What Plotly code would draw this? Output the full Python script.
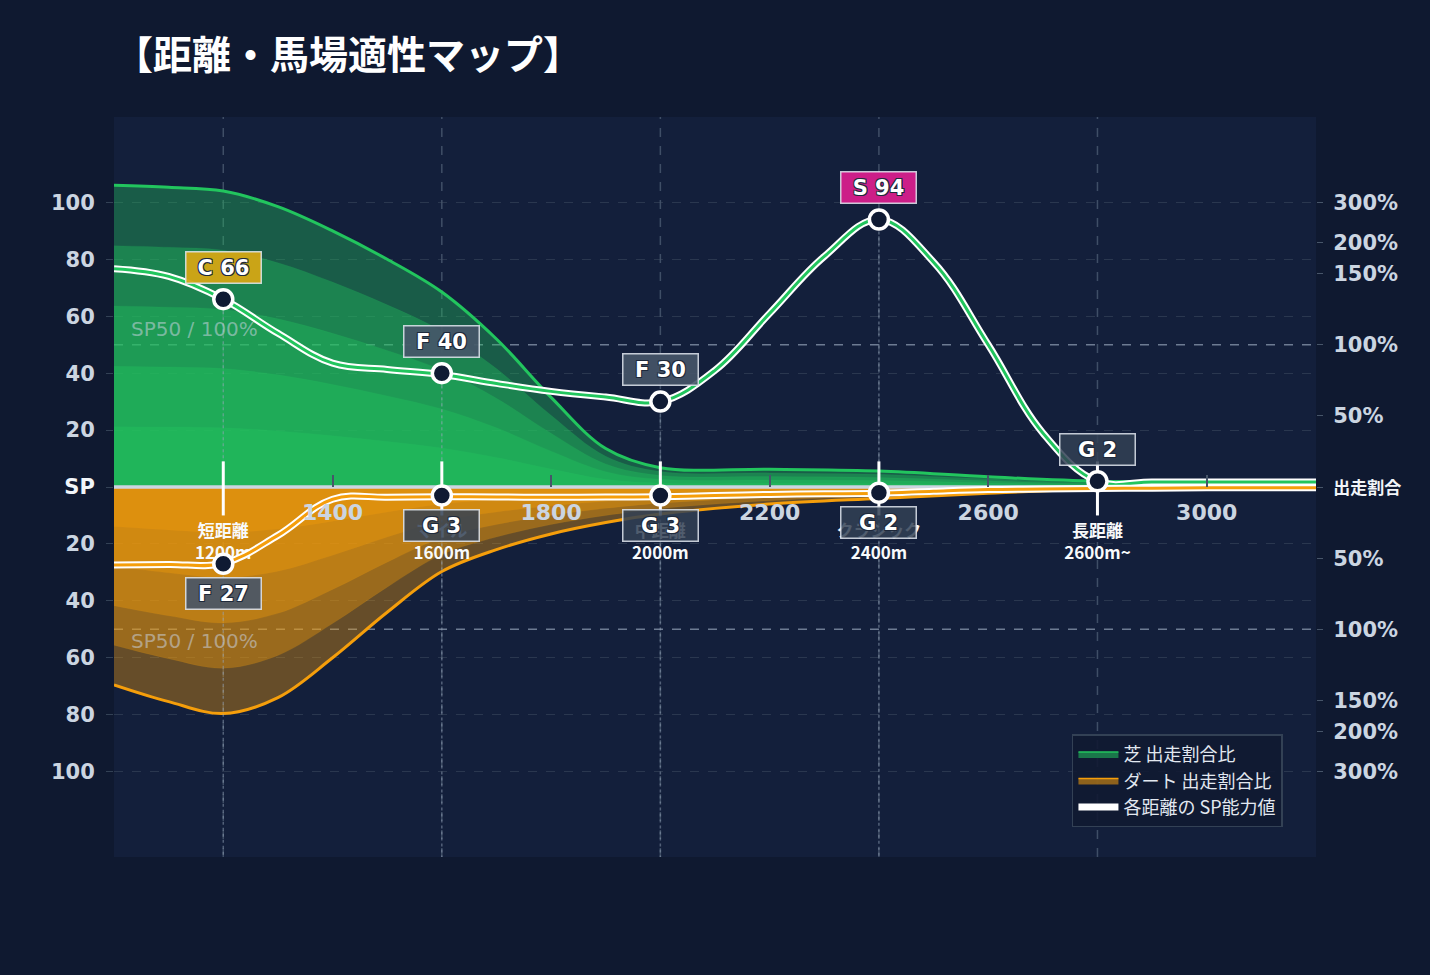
"""距離・馬場適性マップ — turf share above the SP line, dirt share mirrored below."""

import plotly.graph_objects as go

# ---------------------------------------------------------------------------
# Data
# ---------------------------------------------------------------------------
# Run-share envelopes (出走割合), sampled along the distance axis.
SHARE_DIST = [1000, 1100, 1200, 1300, 1400, 1500, 1600, 1700, 1800, 1900,
              2000, 2200, 2400, 2600, 2800, 3000, 3200]
TURF_SHARE = [106, 105.3, 104, 98.5, 90, 80, 68.5, 52, 31.5, 13.5,
              6.8, 6.2, 5.6, 3.6, 2.0, 2.0, 2.0]
DIRT_SHARE = [69.5, 75.4, 79.6, 74, 60, 44, 29.7, 22, 16.5, 12.5,
              9.5, 6.0, 4.0, 2.2, 0.8, 0.6, 0.6]

# SP curves between the category points.
SP_DIST = [1000, 1100, 1200, 1300, 1400, 1500, 1600, 1700, 1800, 1900, 2000, 2100,
           2200, 2300, 2400, 2500, 2600, 2700, 2800, 2900, 3000, 3100, 3200]
TURF_SP_LINE = [76.7, 74, 66, 54, 43.5, 41.3, 39.5, 36.4, 33.6, 31.6, 30, 41,
                61, 81, 94, 79, 50, 19, 2, 1.8, 1.8, 1.8, 1.8]
DIRT_SP_LINE = [27.4, 27.2, 26.8, 17, 4.3, 3.6, 3.4, 3.5, 3.6, 3.5, 3.4, 3.0,
                2.6, 2.4, 2.2, 1.5, 0.9, 0.7, 0.5, 0.4, 0.3, 0.3, 0.3]

# Distance categories and their grades.
CATEGORIES = ["短距離", "マイル", "中距離", "クラシック", "長距離"]
CATEGORY_DIST = [1200, 1600, 2000, 2400, 2800]
CATEGORY_RANGE = ["1200m", "1600m", "2000m", "2400m", "2600m~"]
TURF_RANK = ["C", "F", "F", "S", "G"]
TURF_SP = [66, 40, 30, 94, 2]
DIRT_RANK = ["F", "G", "G", "G"]
DIRT_SP = [27, 3, 3, 2]

# Axis ticks.
X_TICKS = [1400, 1800, 2200, 2600, 3000]
LEFT_TICK_VALS = [100, 80, 60, 40, 20, 0, -20, -40, -60, -80, -100]
LEFT_TICK_TEXT = ["100", "80", "60", "40", "20", "SP", "20", "40", "60", "80", "100"]
RATIO_TICK_VALS = [100, 86, 75, 50, 25, 0, -25, -50, -75, -86, -100]
RATIO_TICK_TEXT = ["300%", "200%", "150%", "100%", "50%", "出走割合",
                   "50%", "100%", "150%", "200%", "300%"]
SP50 = 50

# ---------------------------------------------------------------------------
# Style
# ---------------------------------------------------------------------------
PAPER_BG = "#0f1930"
PLOT_BG = "#131f3b"
TURF = "#22c55e"
DIRT = "#f59e0b"
TICK_COLOR = "#cbd5e1"
FONT = "DejaVu Sans, Noto Sans CJK JP, sans-serif"
CJK = "Noto Sans CJK JP, DejaVu Sans, sans-serif"
RANK_BG = {
    "S": "rgba(214,31,140,0.95)",
    "A": "rgba(220,38,38,0.9)",
    "B": "rgba(234,88,12,0.9)",
    "C": "rgba(212,165,20,0.95)",
    "F": "rgba(71,85,105,0.9)",
    "G": "rgba(51,65,85,0.85)",
}
LAYERS = [0.2, 0.4, 0.6, 0.8]  # inner gradient layers, the full envelope goes last
OUTLINE = ("1px 1px 0 #1e293b, -1px -1px 0 #1e293b, "
           "1px -1px 0 #1e293b, -1px 1px 0 #1e293b")

fig = go.Figure()


def add_share(values, sign, rgba, color, name):
    for frac in LAYERS:
        fig.add_trace(go.Scatter(
            x=SHARE_DIST, y=[sign * v * frac for v in values],
            mode="lines", line=dict(width=0.6, color=rgba.format(0.15), shape="spline"),
            fill="tozeroy", fillcolor=rgba.format(0.37),
            showlegend=False, hoverinfo="skip",
        ))
    fig.add_trace(go.Scatter(
        x=SHARE_DIST, y=[sign * v for v in values],
        mode="lines", line=dict(width=3, color=color, shape="spline"),
        fill="tozeroy", fillcolor=rgba.format(0.37),
        showlegend=False, hoverinfo="skip",
    ))
    # legend swatch only
    fig.add_trace(go.Scatter(
        x=[None], y=[None], mode="lines", fill="toself",
        fillcolor=rgba.format(0.55), line=dict(color=color, width=1.5), name=name,
    ))


add_share(TURF_SHARE, 1, "rgba(34,197,94,{})", TURF, "芝 出走割合比")
add_share(DIRT_SHARE, -1, "rgba(245,158,11,{})", DIRT, "ダート 出走割合比")

# centre line
fig.add_trace(go.Scatter(
    x=[SHARE_DIST[0], SHARE_DIST[-1]], y=[0, 0], mode="lines",
    line=dict(color="#cbd5e1", width=3.5), showlegend=False, hoverinfo="skip",
))

# dotted drop lines from the grade points
drop_x, drop_y = [], []
for d, v in zip(CATEGORY_DIST, TURF_SP):
    drop_x += [d, d, None]
    drop_y += [v, 0, None]
for d, v in zip(CATEGORY_DIST, DIRT_SP):
    drop_x += [d, d, None]
    drop_y += [-v, -130, None]
fig.add_trace(go.Scatter(
    x=drop_x, y=drop_y, mode="lines",
    line=dict(color="rgba(148,163,184,0.5)", width=1.5, dash="dot"),
    showlegend=False, hoverinfo="skip",
))

# category captions under the axis
fig.add_trace(go.Scatter(
    x=CATEGORY_DIST, y=[-20] * len(CATEGORY_DIST), mode="text",
    text=[f"{c}<br>{r}" for c, r in zip(CATEGORIES, CATEGORY_RANGE)],
    textfont=dict(family=CJK, size=17, color="#f8fafc", weight="bold"),
    showlegend=False, hoverinfo="skip",
))

# white category ticks across the centre line
tick_x, tick_y = [], []
for d in CATEGORY_DIST:
    tick_x += [d, d, None]
    tick_y += [9, -10, None]
fig.add_trace(go.Scatter(
    x=tick_x, y=tick_y, mode="lines", line=dict(color="white", width=3),
    showlegend=False, hoverinfo="skip",
))

# SP curves: white casing + coloured core
sp_shape = dict(shape="spline", smoothing=1.1)
fig.add_trace(go.Scatter(
    x=SP_DIST, y=TURF_SP_LINE, mode="lines",
    line=dict(color="white", width=7, **sp_shape),
    name="各距離の SP能力値", hoverinfo="skip",
))
fig.add_trace(go.Scatter(
    x=SP_DIST, y=TURF_SP_LINE, mode="lines",
    line=dict(color=TURF, width=3, **sp_shape), showlegend=False, hoverinfo="skip",
))
fig.add_trace(go.Scatter(
    x=SP_DIST, y=[-v for v in DIRT_SP_LINE], mode="lines",
    line=dict(color="white", width=7, **sp_shape), showlegend=False, hoverinfo="skip",
))
fig.add_trace(go.Scatter(
    x=SP_DIST, y=[-v for v in DIRT_SP_LINE], mode="lines",
    line=dict(color=DIRT, width=3, **sp_shape), showlegend=False, hoverinfo="skip",
))

# grade markers
marker = dict(size=19, color="#0f1a33", line=dict(color="white", width=3.5))
fig.add_trace(go.Scatter(
    x=CATEGORY_DIST[:len(DIRT_SP)], y=[-v for v in DIRT_SP], mode="markers",
    marker=marker, showlegend=False,
))
fig.add_trace(go.Scatter(
    x=CATEGORY_DIST, y=TURF_SP, mode="markers", marker=marker, showlegend=False,
))

# invisible trace so the right-hand ratio axis gets drawn
fig.add_trace(go.Scatter(
    x=[SHARE_DIST[0]], y=[0], yaxis="y2", mode="markers",
    marker=dict(opacity=0), showlegend=False, hoverinfo="skip",
))

# grade badges
badge_font = dict(family=FONT, size=21, color="white", weight="bold", shadow=OUTLINE)
for d, rank, sp in zip(CATEGORY_DIST, TURF_RANK, TURF_SP):
    fig.add_annotation(
        x=d, y=sp, yshift=32, text=f"{rank} {sp}", showarrow=False, font=badge_font,
        bgcolor=RANK_BG[rank], bordercolor="rgba(226,232,240,0.85)", borderwidth=1.5,
        width=72, height=28,
    )
for d, rank, sp in zip(CATEGORY_DIST, DIRT_RANK, DIRT_SP):
    fig.add_annotation(
        x=d, y=-sp, yshift=-30, text=f"{rank} {sp}", showarrow=False, font=badge_font,
        bgcolor=RANK_BG[rank], bordercolor="rgba(226,232,240,0.85)", borderwidth=1.5,
        width=72, height=28,
    )

# SP50 reference lines
for sign in (1, -1):
    fig.add_shape(
        type="line", xref="paper", x0=0, x1=1, y0=sign * SP50, y1=sign * SP50,
        line=dict(color="rgba(148,163,184,0.7)", width=1.5, dash="dash"), layer="below",
    )
    fig.add_annotation(
        x=SHARE_DIST[0], xshift=15, y=sign * SP50, yshift=2,
        xanchor="left", yanchor="bottom" if sign > 0 else "top",
        text="SP50 / 100%", showarrow=False,
        font=dict(family=FONT, size=20, color="rgba(203,213,225,0.55)"),
    )

# category grid lines
for d in CATEGORY_DIST:
    fig.add_shape(
        type="line", yref="paper", y0=0, y1=1, x0=d, x1=d,
        line=dict(color="rgba(100,116,139,0.55)", width=1.5, dash="dash"), layer="below",
    )

fig.update_layout(
    width=1430, height=975,
    margin=dict(l=114, r=114, t=117, b=118),
    paper_bgcolor=PAPER_BG, plot_bgcolor=PLOT_BG,
    font=dict(family=FONT, color=TICK_COLOR),
    title=dict(
        text="【距離・馬場適性マップ】", x=0, xref="paper", xanchor="left",
        y=1 - 55 / 975, yref="container", yanchor="middle",
        font=dict(family=CJK, size=39, color="white", weight="bold"),
    ),
    xaxis=dict(
        range=[SHARE_DIST[0], SHARE_DIST[-1]], tickvals=X_TICKS,
        anchor="free", position=0.5, showgrid=False, zeroline=False, showline=False,
        ticks="inside", ticklen=12, tickwidth=2, tickcolor="#475569",
        tickfont=dict(size=22, color=TICK_COLOR, weight="bold"),
        ticklabelstandoff=10,
    ),
    yaxis=dict(
        range=[-130, 130], tickvals=LEFT_TICK_VALS,
        ticktext=[f"<span style='color:#f1f5f9'>{t}</span>" if t == "SP" else t
                  for t in LEFT_TICK_TEXT],
        showgrid=True, gridcolor="rgba(71,85,105,0.45)", griddash="dash", gridwidth=1,
        zeroline=False, showline=False,
        ticks="outside", ticklen=7, tickcolor="#334155",
        tickfont=dict(size=21, color=TICK_COLOR, weight="bold"),
        ticklabelstandoff=7,
    ),
    yaxis2=dict(
        range=[-130, 130], overlaying="y", side="right", tickvals=RATIO_TICK_VALS,
        ticktext=[f"<span style='font-size:17px;color:#f1f5f9'>{t}</span>" if t == "出走割合" else t
                  for t in RATIO_TICK_TEXT],
        showgrid=False, zeroline=False, showline=False,
        ticks="outside", ticklen=6, tickcolor="#475569",
        tickfont=dict(size=21, color=TICK_COLOR, weight="bold"),
        ticklabelstandoff=6,
    ),
    legend=dict(
        x=0.9725, y=0.04, xanchor="right", yanchor="bottom",
        bgcolor="rgba(17,26,50,0.9)", bordercolor="#334155", borderwidth=1.5,
        font=dict(family=CJK, size=18, color="#e2e8f0"), traceorder="normal",
        itemwidth=40, tracegroupgap=0,
    ),
    showlegend=True,
)

fig.write_html(
    "out.html",
    config={"displayModeBar": False},
    post_script="document.body.style.margin = '0';",
)
